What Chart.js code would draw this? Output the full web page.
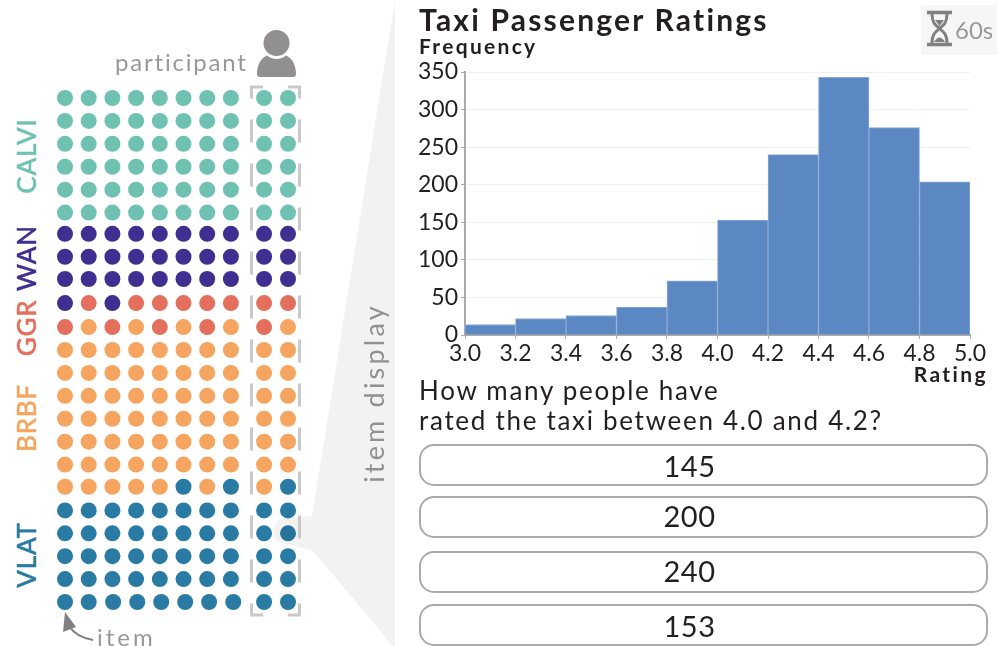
<!DOCTYPE html>
<html>
<head>
<meta charset="utf-8">
<script src="https://cdn.jsdelivr.net/npm/chart.js@4"></script>
<style>
  html, body { margin: 0; padding: 0; background: #fff; }
  body { width: 997px; height: 646px; position: relative; overflow: hidden; font-family: Lato, sans-serif; color: #231f20; }
  canvas { position: absolute; }
  svg { position: absolute; left: 0; top: 0; }
  .t { position: absolute; white-space: nowrap; line-height: 1; }
  .rot { transform: translate(-50%, -50%) rotate(-90deg); font-size: 26px; font-weight: 500; letter-spacing: 0.8px; -webkit-text-stroke: 0.4px currentColor; }
  .answer { position: absolute; left: 419px; width: 537px; height: 38px; padding-right: 28px; border: 2px solid #ababab; border-radius: 15px; background: #fff;
            text-align: center; font-size: 29px; letter-spacing: 0.5px; }
</style>
</head>
<body>
<canvas id="items" width="400" height="646" style="left:0;top:0"></canvas>

<svg width="997" height="646">
  <!-- callout from the highlighted item to the display -->
  <path d="M395,0 L312,516 L286,518 Q274,519 274,530 L274,534 Q274,543 285,544 L312,550 L393,646 L395,646 Z" fill="rgba(0,0,0,0.05)"/>
  <!-- participant bracket -->
  <g fill="none" stroke="#c9c9c9" stroke-width="3" stroke-dasharray="23 21">
    <path d="M263,87 H251.5 V615 H263"/>
    <path d="M288,87 H299.5 V615 H288"/>
  </g>
  <!-- participant icon -->
  <g fill="#918f8f">
    <circle cx="276.5" cy="43" r="13"/>
    <path d="M257,74 C257,65 261,58 267,55.5 C272,60 281,60 286,55.5 C292,58 296,65 296,74 Q296,77 293,77 H260 Q257,77 257,74 Z"/>
  </g>
  <!-- item arrow -->
  <path d="M93,640 Q76,637 69,626" fill="none" stroke="#808080" stroke-width="2"/>
  <path d="M65,612 L63,632 L76,627 Z" fill="#808080"/>
  <!-- timer -->
  <rect x="921" y="5" width="76" height="50" fill="#f6f6f6"/>
  <g fill="none" stroke="#808080">
    <path d="M927,12.5 H952 M927,44.5 H952" stroke-width="3.5"/>
    <path d="M932,14 C932,24 937,26 939.5,28.500 C942,26 947,24 947,14 M932,43 C932,33 937,31 939.5,28.500 C942,31 947,33 947,43" stroke-width="3"/>
  </g>
  <path d="M935,20 H944 L939.500,26 Z M934,42 Q939.500,33 945,42 Z" fill="#808080"/>
</svg>

<div class="t" style="left:115px;top:50px;font-size:24px;letter-spacing:1.800px;color:#999">participant</div>
<div class="t" style="left:97px;top:625px;font-size:24px;letter-spacing:3px;color:#999">item</div>
<div class="t rot" style="left:26px;top:156px;color:#6fc2b2">CALVI</div>
<div class="t rot" style="left:26px;top:258px;color:#3f2f90">WAN</div>
<div class="t rot" style="left:26px;top:328px;color:#e36f5c">GGR</div>
<div class="t rot" style="left:26px;top:418px;color:#f5a55f">BRBF</div>
<div class="t rot" style="left:26px;top:555px;color:#2a7ba3">VLAT</div>
<div class="t rot" style="left:373px;top:393px;color:#909090;font-size:27px;font-weight:400;letter-spacing:3.200px;-webkit-text-stroke:0">item display</div>

<div class="t" style="left:419px;top:4px;font-size:30px;font-weight:700;letter-spacing:2.200px">Taxi Passenger Ratings</div>
<div class="t" style="left:419px;top:35px;font-size:21px;font-weight:700;letter-spacing:2.300px">Frequency</div>
<div class="t" style="right:9px;top:363px;font-size:21px;font-weight:700;letter-spacing:2.400px">Rating</div>
<div class="t" style="left:955px;top:18px;font-size:24px;color:#999">60s</div>
<div class="t" style="left:419px;top:377px;font-size:26px;letter-spacing:1.700px">How many people have</div>
<div class="t" style="left:419px;top:407px;font-size:26px;letter-spacing:1.700px">rated the taxi between 4.0 and 4.2?</div>
<div class="answer" style="top:444px;line-height:39px">145</div>
<div class="answer" style="top:496px;line-height:35px">200</div>
<div class="answer" style="top:551px;line-height:35px">240</div>
<div class="answer" style="top:604px;line-height:39px">153</div>

<canvas id="hist" width="587" height="310" style="left:410px;top:55px"></canvas>

<script>
// Histogram
const binCenters = [3.1, 3.3, 3.5, 3.7, 3.9, 4.1, 4.3, 4.5, 4.7, 4.9];
const frequencies = [14, 22, 26, 37, 72, 153, 240, 343, 276, 204];
const xTicks = [3.0, 3.2, 3.4, 3.6, 3.8, 4.0, 4.2, 4.4, 4.6, 4.8, 5.0];
const yTicks = [0, 50, 100, 150, 200, 250, 300, 350];

// Item grid: one string per row, one letter per column
const tests = ['C', 'W', 'G', 'B', 'V'];
const testColors = ['#6fc2b2', '#3f2f90', '#e36f5c', '#f5a55f', '#2a7ba3'];
const itemRows = [
  'CCCCCCCCCC', 'CCCCCCCCCC', 'CCCCCCCCCC', 'CCCCCCCCCC', 'CCCCCCCCCC', 'CCCCCCCCCC',
  'WWWWWWWWWW', 'WWWWWWWWWW', 'WWWWWWWWWW',
  'WGWGGGGGGG', 'GBGBGBGBGB',
  'BBBBBBBBBB', 'BBBBBBBBBB', 'BBBBBBBBBB', 'BBBBBBBBBB', 'BBBBBBBBBB', 'BBBBBBBBBB',
  'BBBBBVBVBV',
  'VVVVVVVVVV', 'VVVVVVVVVV', 'VVVVVVVVVV', 'VVVVVVVVVV', 'VVVVVVVVVV'
];
const rowPos = [0, 1, 2, 3, 4, 5, 5.93, 6.93, 7.9, 8.95, 10, 11, 12, 13, 14, 15, 16, 16.97, 18, 19, 20, 21, 22];
const colPos = [0, 1, 2, 3, 4, 5, 6, 7, 8.4, 9.41];
const lastRowCols = [0, 1, 2.03, 3.05, 4.06, 5.07, 6.08, 7.1, 8.4, 9.41];

function pointsFor(test) {
  const pts = [];
  itemRows.forEach((row, r) => {
    const cols = r === itemRows.length - 1 ? lastRowCols : colPos;
    row.split('').forEach((letter, c) => {
      if (letter === test) pts.push({ x: cols[c], y: rowPos[r] });
    });
  });
  return pts;
}

new Chart(document.getElementById('items'), {
  type: 'scatter',
  data: {
    datasets: tests.map((test, i) => ({
      label: test,
      data: pointsFor(test),
      backgroundColor: testColors[i],
      borderWidth: 0,
      pointRadius: 8
    }))
  },
  options: {
    responsive: false,
    animation: false,
    layout: { padding: 0, autoPadding: false },
    plugins: { legend: { display: false }, tooltip: { enabled: false } },
    scales: {
      x: { display: false, min: -2.743, max: 14.135 },
      y: { display: false, reverse: true, min: -4.278, max: 23.92 }
    }
  }
});

new Chart(document.getElementById('hist'), {
  type: 'bar',
  data: {
    datasets: [{
      data: binCenters.map((x, i) => ({ x: x, y: frequencies[i] })),
      backgroundColor: '#5b87c3',
      borderColor: '#8cabd6',
      borderWidth: 1,
      barPercentage: 1,
      categoryPercentage: 1
    }]
  },
  options: {
    responsive: false,
    animation: false,
    layout: { padding: { top: 17, right: 27, bottom: 0, left: 0 } },
    plugins: { legend: { display: false }, tooltip: { enabled: false } },
    scales: {
      x: {
        type: 'linear',
        min: 3,
        max: 5,
        offset: false,
        afterBuildTicks: axis => { axis.ticks = xTicks.map(v => ({ value: v })); },
        afterFit: axis => { axis.height = 30; },
        grid: { offset: false, drawOnChartArea: false, tickColor: '#aaa', tickLength: 4 },
        border: { color: '#aaa', width: 2 },
        ticks: {
          autoSkip: false,
          maxRotation: 0,
          padding: 1,
          color: '#231f20',
          font: { family: 'Lato', size: 23 },
          callback: v => Number(v).toFixed(1)
        }
      },
      y: {
        min: 0,
        max: 350,
        afterBuildTicks: axis => { axis.ticks = yTicks.map(v => ({ value: v })); },
        afterFit: axis => { axis.width = 55; },
        grid: { color: '#f0f0f0', tickColor: '#aaa', tickLength: 4 },
        border: { color: '#aaa', width: 2 },
        ticks: {
          padding: 3,
          color: '#231f20',
          font: { family: 'Lato', size: 23 }
        }
      }
    }
  }
});
</script>
</body>
</html>
